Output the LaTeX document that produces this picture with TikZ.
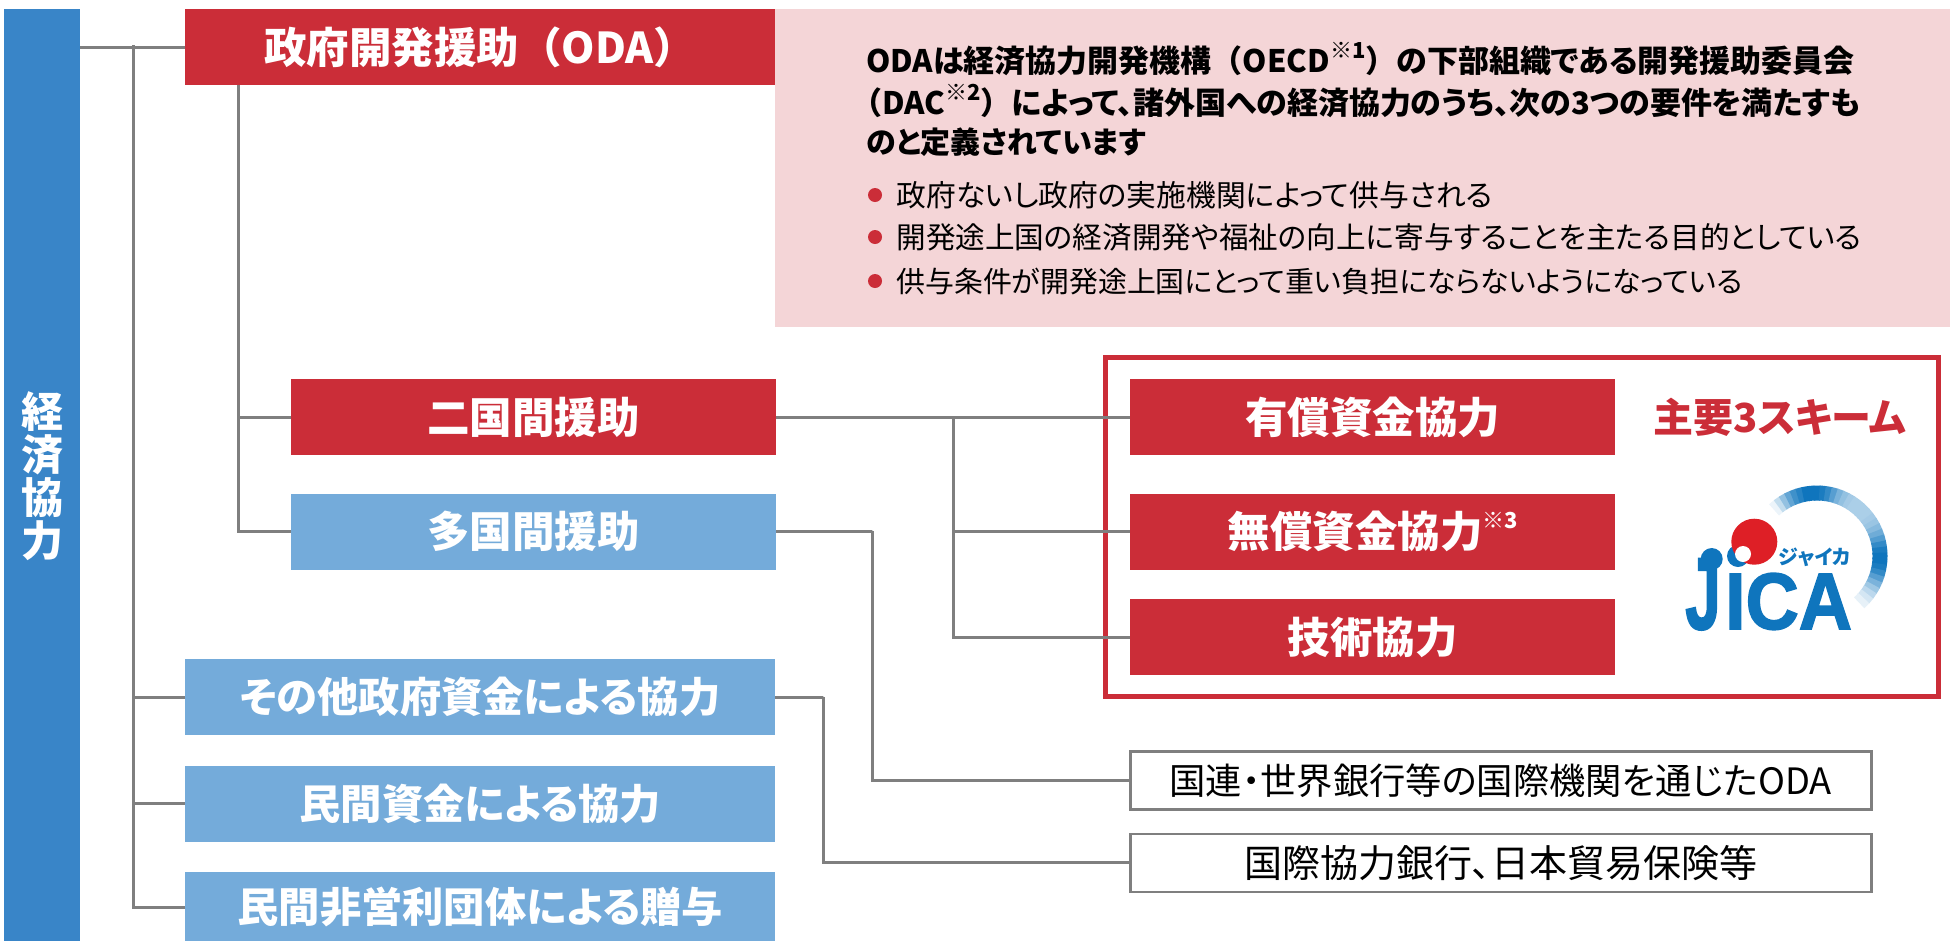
\documentclass[tikz,border=0pt]{standalone}
\usepackage{fontspec}
\setmainfont{Noto Sans CJK JP}[RawFeature=+palt]
\newfontfamily\fullfont{Noto Sans CJK JP}
\newfontfamily\logofont{Liberation Sans}[BoldFeatures={FakeBold=2}]
\usetikzlibrary{positioning}
\definecolor{odared}{HTML}{CB2D38}
\definecolor{barblue}{HTML}{3985C8}
\definecolor{subblue}{HTML}{74ABDA}
\definecolor{notepink}{HTML}{F4D5D7}
\definecolor{linegray}{HTML}{7F7F7F}
\definecolor{logoblue}{HTML}{0F75BD}
\definecolor{logored}{HTML}{DE1F26}
\newcommand{\fsize}[1]{\fontsize{#1}{#1}\selectfont}
\newcommand{\chu}[1]{\raisebox{0.45em}{\fsize{22}※#1}}
\newcommand{\zl}{{\fullfont （}}
\newcommand{\zr}{{\fullfont ）}}

\begin{document}
\begin{tikzpicture}[
    x=1pt, y=1pt,
    block/.style={rectangle, inner sep=0pt, text=white, font=\fsize{42.5}\bfseries, text centered, minimum height=76pt},
    redbig/.style={block, fill=odared, minimum width=590pt},
    redmid/.style={block, fill=odared, minimum width=485pt},
    bluemid/.style={block, fill=subblue, minimum width=485pt},
    bluebig/.style={block, fill=subblue, minimum width=590pt, font=\fsize{41.3}\bfseries},
    whitebox/.style={rectangle, inner sep=0pt, draw=linegray, line width=2.5pt, fill=white, text centered, minimum width=741pt, minimum height=58pt},
    notetext/.style={inner sep=0pt, anchor=west},
    notebold/.style={notetext, font=\fsize{31}\bfseries},
    notedot/.style={circle, inner sep=0pt, fill=odared, minimum size=14pt},
    line/.style={draw=linegray, line width=3pt},
    logotext/.style={inner sep=0pt, text=logoblue, font=\logofont\bfseries\fsize{80}}
]
    \useasboundingbox (0,-1) rectangle (1950,-941);

    % left bar
    \node [rectangle, fill=barblue, inner sep=0pt, minimum width=76pt, minimum height=934pt, anchor=north west, text=white, align=center, font=\fontsize{42}{43}\selectfont\bfseries] (keizai) at (4,-10) {経\\済\\協\\力};

    % first column
    \node [redbig, anchor=north west] (oda) at (185,-10) {政府開発援助\zl ODA\zr};
    \node [bluebig, anchor=north west] (sonota) at (185,-660) {その他政府資金による協力};
    \node [bluebig, below=30pt of sonota] (minkan) {民間資金による協力};
    \node [bluebig, minimum height=70pt, below=30pt of minkan] (hieiri) {民間非営利団体による贈与};

    % second column
    \node [redmid, anchor=north east] (nikoku) at (776,-380) {二国間援助};
    \node [bluemid, below=38pt of nikoku] (takoku) {多国間援助};

    % note
    \node [rectangle, fill=notepink, inner sep=0pt, minimum width=1175pt, minimum height=318pt, anchor=north west] (note) at (775,-10) {};
    \node [notebold] (notea) at (866,-60) {ODAは経済協力開発機構\zl OECD\chu{1}\zr の下部組織である開発援助委員会};
    \node [notebold] (noteb) at (851,-102) {\zl DAC\chu{2}\zr によって、諸外国への経済協力のうち、次の3つの要件を満たすも};
    \node [notebold, font=\fsize{30}\bfseries] (notec) at (866,-143) {のと定義されています};
    \node [notedot] (dota) at (875,-196) {};
    \node [notedot] (dotb) at (875,-238) {};
    \node [notedot] (dotc) at (875,-282) {};
    \node [notetext, font=\fsize{29.8}, right=14pt of dota] (itema) {政府ないし政府の実施機関によって供与される};
    \node [notetext, font=\fsize{29.6}, right=14pt of dotb] (itemb) {開発途上国の経済開発や福祉の向上に寄与することを主たる目的としている};
    \node [notetext, font=\fsize{28.9}, right=14pt of dotc] (itemc) {供与条件が開発途上国にとって重い負担にならないようになっている};

    % scheme frame
    \node [rectangle, draw=odared, line width=5pt, minimum width=833pt, minimum height=339pt, anchor=north west] (frame) at (1103,-356) {};
    \node [redmid, anchor=north west] (yusho) at (1130,-380) {有償資金協力};
    \node [redmid, below=38pt of yusho] (musho) {無償資金協力\chu{3}};
    \node [redmid, below=29pt of musho] (gijutsu) {技術協力};
    \node [inner sep=0pt, text=odared, font=\fsize{40}\bfseries] (shuyo) at (1780,-418) {主要3スキーム};

    % lower right boxes
    \node [whitebox, font=\fsize{36.3}, anchor=north west] (kokuren) at (1129,-751) {国連・世界銀行等の国際機関を通じたODA};
    \node [whitebox, font=\fsize{38}, below=22pt of kokuren] (jbic) {国際協力銀行、日本貿易保険等};

    % logo
    \foreach \a/\p in {130/8,125/25,120/45,115/65,110/80,105/90,100/100,95/100,90/100,85/95,80/85,75/70,70/55,65/45,60/38,55/35,50/35,45/35,40/35,35/38,30/42,25/50,20/60,15/72,10/85,5/95,0/100,-5/100,-10/95,-15/85,-20/70,-25/55,-30/40,-35/28,-40/18,-45/10}
        \draw [logoblue!\p!white, line width=15pt] (1817,-557) ++(\a+3:63) arc (\a+3:\a-3:63);
    \node [circle, fill=logoblue, inner sep=0pt, minimum size=22pt] (logodota) at (1711.7,-560) {};
    \node [circle, fill=logoblue, inner sep=0pt, minimum size=22pt] (logodotb) at (1738,-557) {};
    \node [circle, fill=logored, inner sep=0pt, minimum size=46pt] (logosun) at (1754.3,-542.7) {};
    \node [circle, fill=white, inner sep=0pt, minimum size=16pt] (logogap) at (1743,-555) {};
    \node [logotext, xscale=0.8, yscale=1.28, anchor=base east] (logoj) at (1721,-630) {J};
    \node [logotext, xscale=0.92, anchor=base west] (logoica) at (1725,-630) {ICA};
    \node [inner sep=0pt, text=logoblue, font=\fsize{20}\bfseries] (logokana) at (1815,-558) {ジャイカ};

    % connectors
    \coordinate (trunka) at (133,-46);
    \coordinate (trunkb) at (238,-86);
    \coordinate (splita) at (953,-418);
    \coordinate (splitb) at (872,-532);
    \coordinate (splitc) at (823,-698);
    \path [line] (keizai.east |- oda.west) -- (oda.west);
    \path [line] (trunka) |- (hieiri.west);
    \path [line] (trunka |- sonota.west) -- (sonota.west);
    \path [line] (trunka |- minkan.west) -- (minkan.west);
    \path [line] (trunkb) |- (takoku.west);
    \path [line] (trunkb |- nikoku.west) -- (nikoku.west);
    \path [line] (nikoku.east) -- (yusho.west);
    \path [line] (splita) |- (gijutsu.west);
    \path [line] (splita |- musho.west) -- (musho.west);
    \path [line] (takoku.east) -| (splitb) |- (kokuren.west);
    \path [line] (sonota.east) -| (splitc) |- (jbic.west);
\end{tikzpicture}
\end{document}
